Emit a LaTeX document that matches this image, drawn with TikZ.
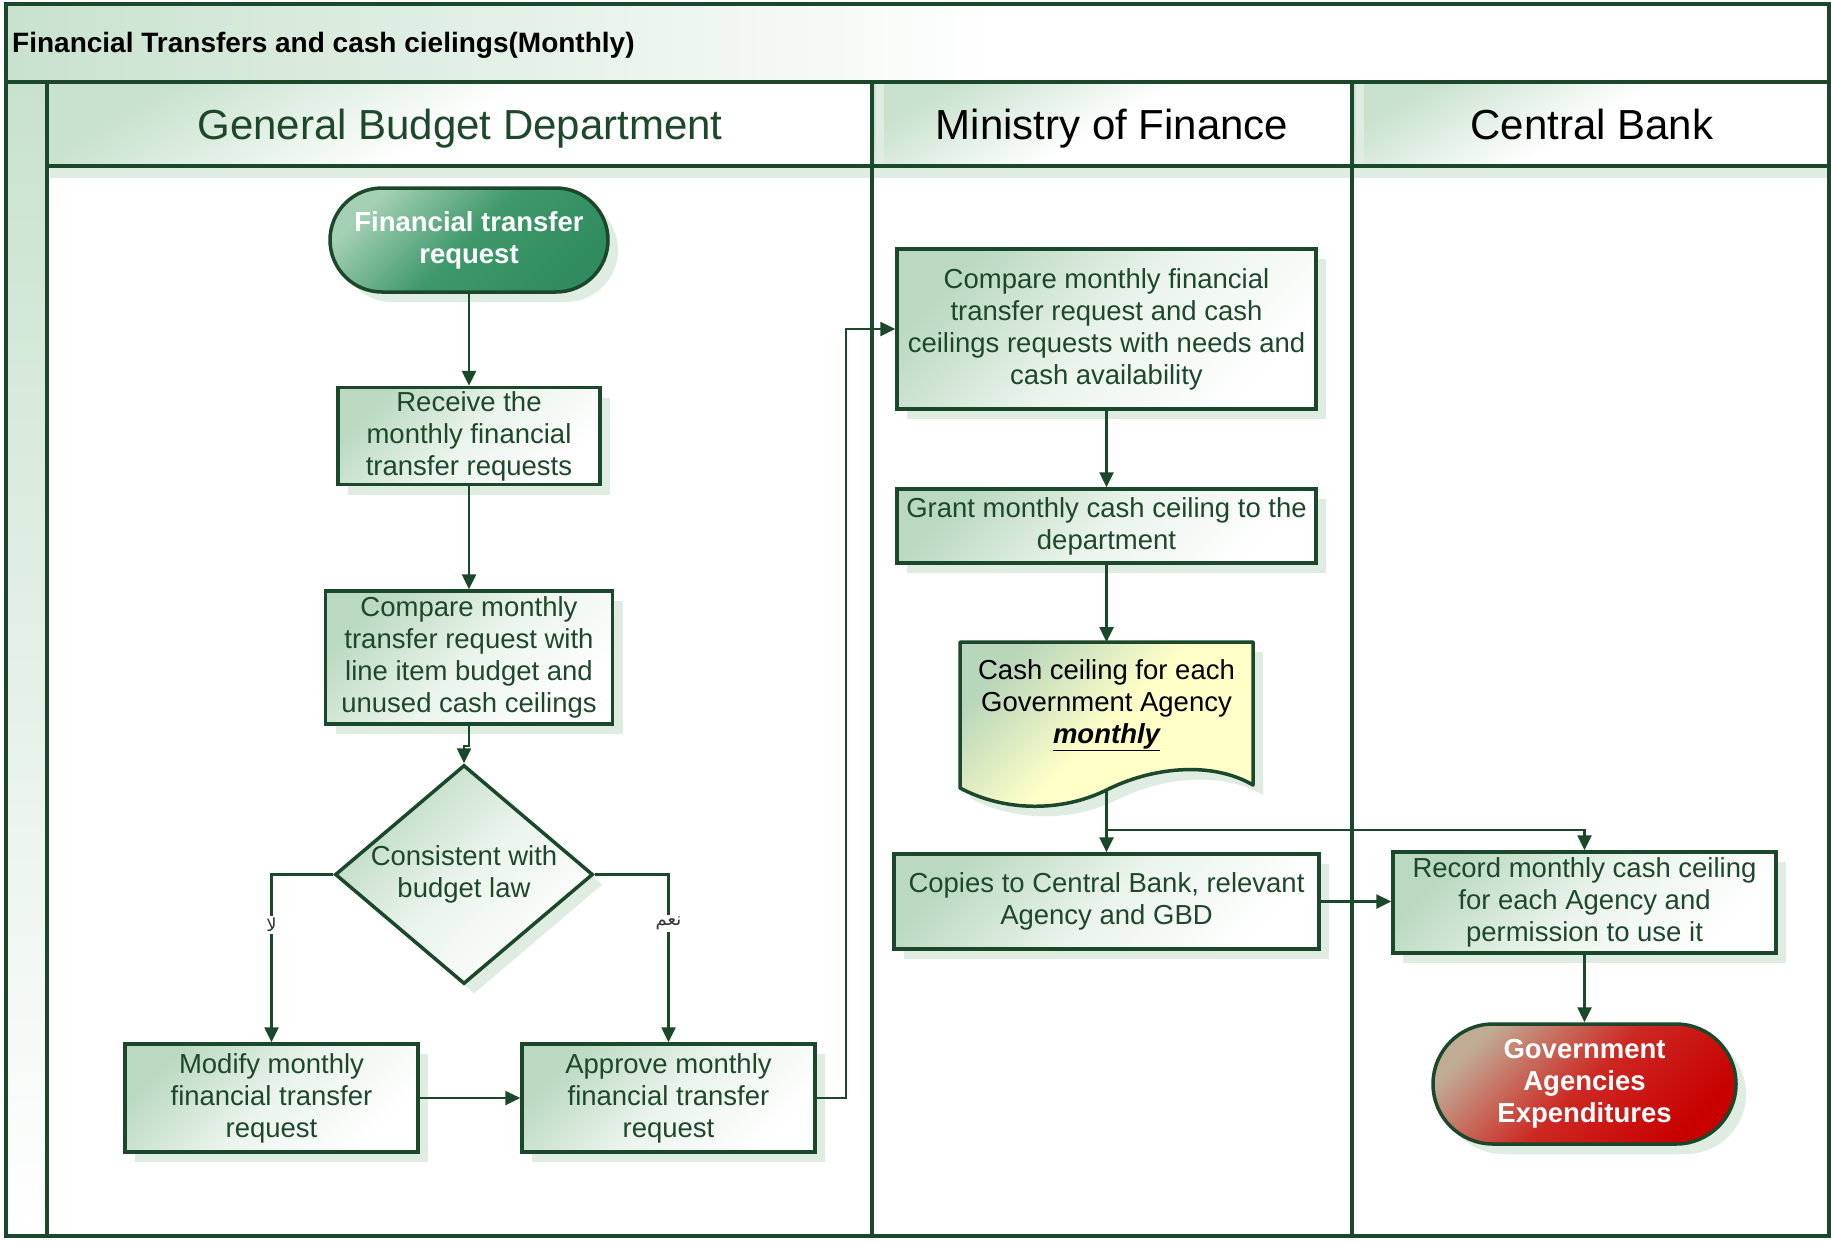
\documentclass[tikz,border=0pt]{standalone}
\usepackage{fontspec}
\setmainfont{Liberation Sans}
\newfontfamily\arabicfont[Script=Arabic]{DejaVu Sans}
\TeXXeTstate=1
\usetikzlibrary{shapes.geometric,arrows.meta,shadows}

\definecolor{lc}{RGB}{27,72,42}
\definecolor{txt}{RGB}{30,72,42}
\definecolor{boxg}{RGB}{186,217,192}
\definecolor{shc}{RGB}{222,236,225}
\definecolor{hdr}{RGB}{200,226,206}
\definecolor{startlight}{RGB}{165,208,180}
\definecolor{startmid}{RGB}{62,152,106}
\definecolor{startdark}{RGB}{48,140,94}
\definecolor{endlight}{RGB}{192,172,148}
\definecolor{endmid}{RGB}{205,40,35}
\definecolor{endred}{RGB}{200,0,0}
\definecolor{docg}{RGB}{184,214,186}
\definecolor{docy}{RGB}{255,255,200}

\newcommand\bodyfont{\fontsize{27.5}{32}\selectfont}
\newcommand\headfont{\fontsize{42}{48}\selectfont}
\newcommand\titlefont{\fontsize{28}{32}\selectfont\bfseries}
\newcommand\docpath{(960,642) -- (1253,642) -- (1253,785) .. controls (1210,760) and (1150,768) .. (1106.5,790) .. controls (1062,812) and (1005,812) .. (960,788) -- cycle}

\begin{document}
\begin{tikzpicture}[x=1pt,y=-1pt,
  frame/.style={draw=lc,line width=4pt},
  sh/.style={drop shadow={shadow xshift=10pt,shadow yshift=-10pt,fill=shc,draw=none,opacity=1}},
  box/.style={draw=lc,line width=3.5pt,top color=boxg,bottom color=white,middle color=boxg!30,shading angle=45,
    text=txt,font=\bodyfont,align=center,inner sep=0pt,sh},
  term/.style={draw=lc,line width=3.5pt,text=white,font=\bodyfont\bfseries,align=center,inner sep=0pt,sh},
  arr/.style={draw=lc,line width=2.5pt,-{Triangle[length=15pt,width=14pt]}},
  ar/.style={fill=white,inner sep=2pt,text=black!80,font=\arabicfont\fontsize{18}{20}\selectfont}
]
\useasboundingbox (0,0) rectangle (1831,1240);
\fill[white] (0,0) rectangle (1831,1240);

% backgrounds
\shade[left color=hdr,right color=white] (6,4) rectangle (1000,82);
\shade[top color=hdr,bottom color=white] (6,82) rectangle (47,1236);
\shade[top color=hdr,bottom color=white,middle color=white,shading angle=30] (47,82) rectangle (872,166);
\shade[top color=hdr,bottom color=white,middle color=white,shading angle=30] (872,82) rectangle (1352,166);
\shade[top color=hdr,bottom color=white,middle color=white,shading angle=30] (1352,82) rectangle (1829,166);
\fill[shc] (50,168) rectangle (1829,178);
\fill[shc] (876,84) rectangle (884,178);
\fill[shc] (1356,84) rectangle (1364,178);

% frame lines
\draw[frame] (6,4) rectangle (1829,1236);
\draw[frame] (6,82) -- (1829,82);
\draw[frame] (47,82) -- (47,1236);
\draw[frame,line width=3.5pt] (47,166) -- (1829,166);
\draw[frame,line width=3.5pt] (872,82) -- (872,1236);
\draw[frame,line width=3.5pt] (1352,82) -- (1352,1236);

% title and headers
\node[anchor=base west,font=\titlefont,inner sep=0pt] (title) at (12,52) {Financial Transfers and cash cielings(Monthly)};
\node[anchor=base,font=\headfont,text=txt,inner sep=0pt] (hgbd) at (460,139) {General Budget Department};
\node[anchor=base,font=\headfont,inner sep=0pt] (hmof) at (1112,139) {Ministry of Finance};
\node[anchor=base,font=\headfont,inner sep=0pt] (hcb) at (1592,139) {Central Bank};

% GBD lane
\node[term,rounded corners=52pt,minimum width=278pt,minimum height=104pt,
  top color=startlight,bottom color=startdark,middle color=startmid,shading angle=45] (start) at (469,240)
  {Financial transfer\\request};
\node[box,minimum width=262pt,minimum height=97pt] (n2) at (469,436)
  {Receive the\\monthly financial\\transfer requests};
\node[box,minimum width=287pt,minimum height=133pt] (n3) at (469,657.5)
  {Compare monthly\\transfer request with\\line item budget and\\unused cash ceilings};
\node[box,diamond,aspect=1.18,minimum width=258pt,minimum height=219pt] (dia) at (464,874.5)
  {Consistent with\\budget law};
\node[box,minimum width=293pt,minimum height=108pt] (n5) at (271.5,1098)
  {Modify monthly\\financial transfer\\request};
\node[box,minimum width=293pt,minimum height=108pt] (n6) at (668.5,1098)
  {Approve monthly\\financial transfer\\request};

% MoF lane
\node[box,minimum width=419pt,minimum height=160pt] (m1) at (1106.5,329)
  {Compare monthly financial\\transfer request and cash\\ceilings requests with needs and\\cash availability};
\node[box,minimum width=419pt,minimum height=74pt] (m2) at (1106.5,526)
  {Grant monthly cash ceiling to the\\department};
\fill[shc,shift={(10,10)}] \docpath;
\shade[top color=docg,bottom color=docy,middle color=docy,shading angle=45] \docpath;
\draw[draw=lc,line width=3.5pt,line join=round] \docpath;
\node[font=\bodyfont,align=center,inner sep=0pt] (doc) at (1106.5,705)
  {Cash ceiling for each\\Government Agency\\\textbf{\textit{\underline{monthly}}}};
\coordinate (doctop) at (1106.5,642);
\coordinate (docb) at (1106.5,790);
\coordinate (br) at (1106.5,830);
\node[box,minimum width=425pt,minimum height=95pt] (m3) at (1106.5,901.5)
  {Copies to Central Bank, relevant\\Agency and GBD};

% Central Bank lane
\node[box,minimum width=383pt,minimum height=101pt] (c1) at (1584.5,902.5)
  {Record monthly cash ceiling\\for each Agency and\\permission to use it};
\node[term,rounded corners=60pt,minimum width=303pt,minimum height=120pt,
  top color=endlight,bottom color=endred,middle color=endmid,shading angle=45] (c2) at (1584.5,1084)
  {Government\\Agencies\\Expenditures};

% connectors
\draw[arr] (start) -- (n2);
\draw[arr] (n2) -- (n3);
\draw[arr] (n3.south) -- ++(0,20) -| (dia.north);
\draw[arr] (dia.west) -| (n5.north) node[ar,pos=0.65] (lno) {\beginR لا\endR};
\draw[arr] (dia.east) -| (n6.north) node[ar,pos=0.645] (lyes) {\beginR نعم\endR};
\draw[arr] (n5) -- (n6);
\draw[arr] (n6.east) -- ++(29,0) |- (m1.west);
\draw[arr] (m1) -- (m2);
\draw[arr] (m2) -- (doctop);
\draw[arr] (docb) -- (m3);
\draw[arr] (br) -| (c1.north);
\draw[arr] (m3.east) -- (m3.east -| c1.west);
\draw[arr] (c1) -- (c2);
\end{tikzpicture}
\end{document}
